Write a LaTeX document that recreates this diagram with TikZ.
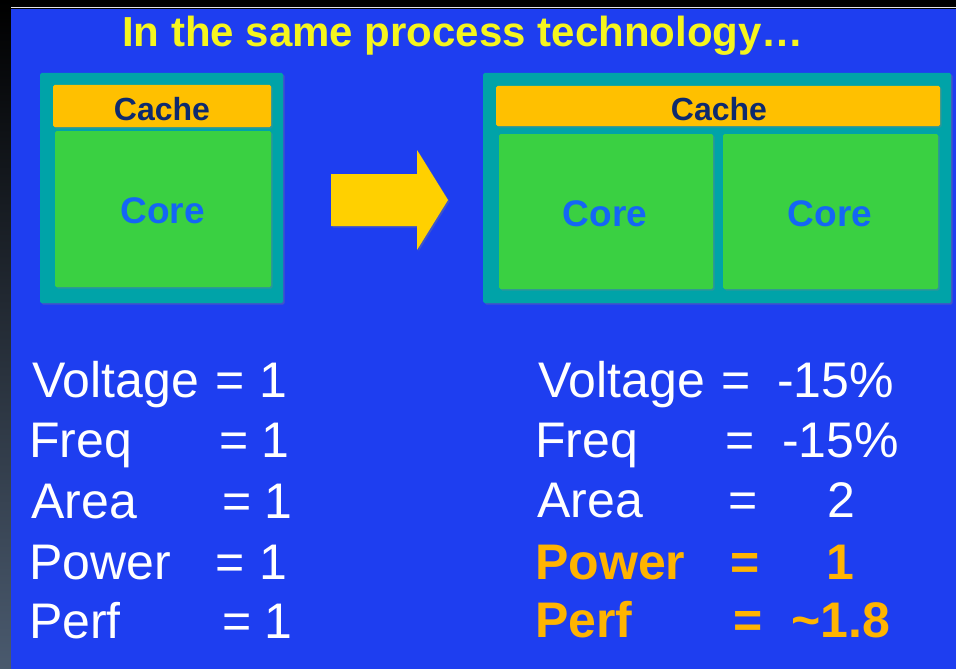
\documentclass[tikz,border=0pt]{standalone}
\usepackage{fontspec}
\setmainfont{Liberation Sans}
\usetikzlibrary{shadows}
\definecolor{bgblue}{HTML}{1E3EF0}
\definecolor{chipteal}{HTML}{00A3A8}
\definecolor{cacheor}{HTML}{FFC000}
\definecolor{coregreen}{HTML}{3AD042}
\definecolor{navytxt}{HTML}{0E2A6E}
\definecolor{coretxt}{HTML}{1466F5}
\definecolor{titleyel}{HTML}{F5F51E}
\definecolor{arrowyel}{HTML}{FFD000}
\definecolor{hiorange}{HTML}{FFB400}
\definecolor{stripgray}{HTML}{4A5A6E}
\tikzset{
  box/.style={inner sep=0pt, draw=none, rounded corners=1.5pt,
    drop shadow={shadow xshift=1.5pt, shadow yshift=-1.5pt, opacity=0.35}},
  chip/.style={box, fill=chipteal},
  cachebox/.style={box, fill=cacheor},
  corebox/.style={box, fill=coregreen},
  cachetxt/.style={inner sep=0pt, anchor=base, text=navytxt, font=\fontsize{32}{36}\selectfont\bfseries},
  coretext/.style={inner sep=0pt, anchor=base, text=coretxt, font=\fontsize{37}{42}\selectfont\bfseries},
  rowtxt/.style={inner sep=0pt, anchor=base west, text=white, font=\fontsize{50}{56}\selectfont},
  hitxt/.style={inner sep=0pt, anchor=base west, text=hiorange, font=\fontsize{50}{56}\selectfont\bfseries},
}
\begin{document}
\begin{tikzpicture}[x=1pt,y=-1pt]
\useasboundingbox (0,0) rectangle (956,669);
% background
\fill[black] (0,0) rectangle (956,669);
\shade[top color=black, bottom color=stripgray] (0,0) rectangle (11,669);
\fill[bgblue] (11,9) rectangle (956,669);
\fill[white!80!gray] (11,7) rectangle (956,8.5);
% title
\node[inner sep=0pt, anchor=base west, text=titleyel, font=\fontsize{42}{48}\selectfont\bfseries] (title) at (122,47) {In the same process technology…};
% left chip
\node[chip, minimum width=243, minimum height=230] (chipL) at (161.5,188) {};
\node[cachebox, minimum width=218, minimum height=42] (cacheL) at (162,106) {};
\node[corebox, minimum width=216, minimum height=156] (coreL) at (163,209) {};
\node[cachetxt] (cacheLt) at (162,120) {Cache};
\node[coretext] (coreLt) at (162.5,223) {Core};
% arrow
\fill[arrowyel, drop shadow={shadow xshift=1.5pt, shadow yshift=-1.5pt, opacity=0.35}]
  (331,174) -- (417,174) -- (417,150) -- (448,200) -- (417,250) -- (417,226) -- (331,226) -- cycle;
% right chip
\node[chip, minimum width=468, minimum height=230] (chipR) at (717,188) {};
\node[cachebox, minimum width=444, minimum height=40] (cacheR) at (718,106) {};
\node[corebox, minimum width=214, minimum height=155] (coreR1) at (606,211.5) {};
\node[corebox, minimum width=215, minimum height=155] (coreR2) at (830.5,211.5) {};
\node[cachetxt] (cacheRt) at (719,120) {Cache};
\node[coretext] (coreR1t) at (605,226) {Core};
\node[coretext] (coreR2t) at (830,226) {Core};
% left table
\node[rowtxt] (lv) at (32,397) {Voltage};
\node[rowtxt] (lve) at (215.5,397) {=};
\node[rowtxt] (lvv) at (259.5,397) {1};
\node[rowtxt] (lf) at (29,457) {Freq};
\node[rowtxt] (lfe) at (219.5,457) {=};
\node[rowtxt] (lfv) at (261.5,457) {1};
\node[rowtxt] (la) at (31,518) {Area};
\node[rowtxt] (lae) at (222.5,518) {=};
\node[rowtxt] (lav) at (264.5,518) {1};
\node[rowtxt] (lp) at (29,579) {Power};
\node[rowtxt] (lpe) at (215.5,579) {=};
\node[rowtxt] (lpv) at (259.5,579) {1};
\node[rowtxt] (lr) at (29,638) {Perf};
\node[rowtxt] (lre) at (222.5,638) {=};
\node[rowtxt] (lrv) at (264.5,638) {1};
% right table
\node[rowtxt] (rv) at (538,397) {Voltage};
\node[rowtxt] (rve) at (721.5,397) {=};
\node[rowtxt] (rvv) at (777,397) {-15\%};
\node[rowtxt] (rf) at (535,457) {Freq};
\node[rowtxt] (rfe) at (725.5,457) {=};
\node[rowtxt] (rfv) at (782,457) {-15\%};
\node[rowtxt] (ra) at (537,517) {Area};
\node[rowtxt] (rae) at (728.5,517) {=};
\node[rowtxt] (rav) at (827,517) {2};
\node[hitxt] (rp) at (535,579) {Power};
\node[hitxt] (rpe) at (730.5,579) {=};
\node[hitxt] (rpv) at (826,579) {1};
\node[hitxt] (rr) at (535,637) {Perf};
\node[hitxt] (rre) at (733.5,637) {=};
\node[hitxt] (rrv) at (791,637) {\textasciitilde1.8};
\end{tikzpicture}
\end{document}
